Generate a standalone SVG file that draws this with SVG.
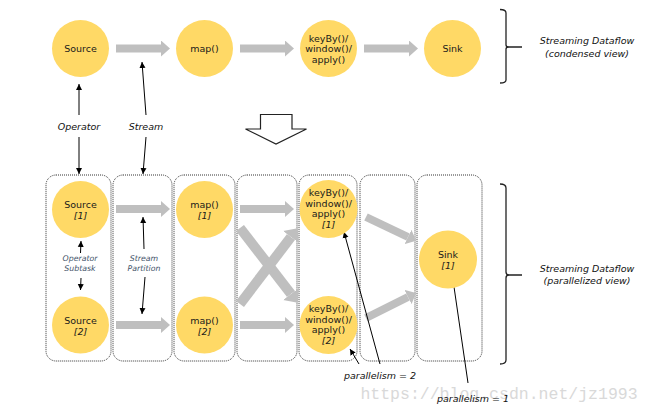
<svg xmlns="http://www.w3.org/2000/svg" width="651" height="414" viewBox="0 0 651 414">
<style>
.n{fill:#FFD966}
.t{font-family:"DejaVu Sans",Verdana,sans-serif;font-size:9.5px;fill:#1a1a1a;text-anchor:middle}
.i{font-style:italic}
.lab{font-family:"DejaVu Sans",Verdana,sans-serif;font-size:9.5px;font-style:italic;fill:#111;text-anchor:middle}
.sub{font-family:"DejaVu Sans",Verdana,sans-serif;font-size:7.8px;font-style:italic;fill:#44546A;text-anchor:middle}
.box{fill:none;stroke:#333;stroke-width:1;stroke-dasharray:1 1}
.g{stroke:#BFBFBF;stroke-width:8;fill:none}
.gx{stroke:#BFBFBF;stroke-width:10;fill:none}
.k{stroke:#000;stroke-width:1;fill:none;marker-end:url(#ah)}
.br{stroke:#222;stroke-width:1.3;fill:none}
</style>
<defs>
<marker id="gh" markerUnits="userSpaceOnUse" markerWidth="10" markerHeight="16" refX="0" refY="8" orient="auto" viewBox="0 0 10 16"><path d="M0,0 L9,8 L0,16 z" fill="#BFBFBF"/></marker>
<marker id="gh2" markerUnits="userSpaceOnUse" markerWidth="12" markerHeight="20" refX="0" refY="10" orient="auto" viewBox="0 0 12 20"><path d="M0,0 L11,10 L0,20 z" fill="#BFBFBF"/></marker>
<marker id="ah" markerUnits="userSpaceOnUse" markerWidth="8" markerHeight="8" refX="6" refY="3" orient="auto" viewBox="0 0 8 6"><path d="M0,0 L6,3 L0,6 z" fill="#000"/></marker>
</defs>
<text x="499" y="399" style="font-family:'Liberation Mono',monospace;font-size:16.5px;fill:#d9d9d9;text-anchor:middle">https://blog.csdn.net/jz1993</text>
<g id="boxes">
<rect class="box" x="46" y="175" width="65" height="186" rx="10"/>
<rect class="box" x="113" y="175" width="59" height="186" rx="10"/>
<rect class="box" x="174" y="175" width="61" height="186" rx="10"/>
<rect class="box" x="237" y="175" width="60" height="186" rx="10"/>
<rect class="box" x="299" y="175" width="58" height="186" rx="10"/>
<rect class="box" x="360" y="175" width="55" height="186" rx="10"/>
<rect class="box" x="417" y="175" width="65" height="186" rx="10"/>
</g>
<g id="connectors">
<line class="g" x1="116" y1="48.5" x2="161" y2="48.5" marker-end="url(#gh)"/>
<line class="g" x1="240" y1="48.5" x2="285" y2="48.5" marker-end="url(#gh)"/>
<line class="g" x1="364" y1="48.5" x2="409" y2="48.5" marker-end="url(#gh)"/>
<line class="g" x1="116" y1="209" x2="161" y2="209" marker-end="url(#gh)"/>
<line class="g" x1="116" y1="325" x2="161" y2="325" marker-end="url(#gh)"/>
<line class="g" x1="240" y1="209" x2="285" y2="209" marker-end="url(#gh)"/>
<line class="g" x1="240" y1="325" x2="285" y2="325" marker-end="url(#gh)"/>
<line class="gx" x1="240" y1="228" x2="291" y2="294" marker-end="url(#gh2)"/>
<line class="gx" x1="240" y1="304" x2="291" y2="237" marker-end="url(#gh2)"/>
<line class="g" x1="366" y1="217" x2="408" y2="237" marker-end="url(#gh)"/>
<line class="g" x1="366" y1="318" x2="408" y2="297" marker-end="url(#gh)"/>
<line class="k" x1="79" y1="115" x2="79" y2="84"/>
<line class="k" x1="79" y1="137" x2="79" y2="174"/>
<line class="k" x1="146" y1="115" x2="142" y2="62"/>
<line class="k" x1="146" y1="137" x2="143" y2="174"/>
<line class="k" x1="80.5" y1="253" x2="81" y2="241"/>
<line class="k" x1="81" y1="278" x2="80.5" y2="290"/>
<line class="k" x1="144" y1="249" x2="143" y2="217"/>
<line class="k" x1="145" y1="277" x2="142" y2="314"/>
<line class="k" x1="380" y1="364" x2="344" y2="232"/>
<line class="k" x1="359" y1="364" x2="350" y2="349"/>
<line class="k" x1="468" y1="383" x2="453" y2="280"/>
</g>
<g id="src"><circle class="n" cx="80.5" cy="48.5" r="28.5"/><text class="t" x="80.5" y="52">Source</text></g>
<g id="map"><circle class="n" cx="204.5" cy="48.5" r="28.5"/><text class="t" x="204.5" y="52">map()</text></g>
<g id="key"><circle class="n" cx="328.5" cy="48.5" r="28.5"/><text class="t" x="328.5" y="41.5">keyBy()/</text><text class="t" x="328.5" y="52">window()/</text><text class="t" x="328.5" y="62.5">apply()</text></g>
<g id="sink"><circle class="n" cx="452.5" cy="48.5" r="28.5"/><text class="t" x="452.5" y="52">Sink</text></g>
<g id="src1"><circle class="n" cx="80.5" cy="209.5" r="28.5"/><text class="t" x="80.5" y="208">Source</text><text class="t i" x="80.5" y="219">[1]</text></g>
<g id="src2"><circle class="n" cx="80.5" cy="325" r="28.5"/><text class="t" x="80.5" y="323.5">Source</text><text class="t i" x="80.5" y="334.5">[2]</text></g>
<g id="map1"><circle class="n" cx="204.5" cy="209.5" r="28.5"/><text class="t" x="204.5" y="208">map()</text><text class="t i" x="204.5" y="219">[1]</text></g>
<g id="map2"><circle class="n" cx="204.5" cy="325" r="28.5"/><text class="t" x="204.5" y="323.5">map()</text><text class="t i" x="204.5" y="334.5">[2]</text></g>
<g id="key1"><circle class="n" cx="328.5" cy="209" r="29"/><text class="t" x="328.5" y="196">keyBy()/</text><text class="t" x="328.5" y="206.5">window()/</text><text class="t" x="328.5" y="217">apply()</text><text class="t i" x="328.5" y="228">[1]</text></g>
<g id="key2"><circle class="n" cx="328.5" cy="325" r="29"/><text class="t" x="328.5" y="312">keyBy()/</text><text class="t" x="328.5" y="322.5">window()/</text><text class="t" x="328.5" y="333">apply()</text><text class="t i" x="328.5" y="344">[2]</text></g>
<g id="sink1"><circle class="n" cx="448" cy="259.5" r="29"/><text class="t" x="448" y="258">Sink</text><text class="t i" x="448" y="269">[1]</text></g>
<g id="labels">
<text class="lab" x="79" y="130">Operator</text>
<text class="lab" x="146" y="130">Stream</text>
<text class="sub" x="80" y="261">Operator</text>
<text class="sub" x="80" y="271">Subtask</text>
<text class="sub" x="144" y="261">Stream</text>
<text class="sub" x="144" y="271">Partition</text>
<text class="lab" x="380" y="379">parallelism = 2</text>
<text class="lab" x="473" y="402">parallelism = 1</text>
<text class="lab" x="587" y="44">Streaming Dataflow</text>
<text class="lab" x="587" y="57">(condensed view)</text>
<text class="lab" x="587" y="272">Streaming Dataflow</text>
<text class="lab" x="587" y="284">(parallelized view)</text>
</g>
<g id="brackets">
<path class="br" d="M500,9.5 Q506,9.5 506,13 V45 Q506,47 509,47 H522 M509,47 Q506,47 506,49 V80 Q506,83 500,83"/>
<path class="br" d="M500,184 Q506,184 506,188 V272 Q506,275 509,275 H522 M509,275 Q506,275 506,278 V360 Q506,364 500,364"/>
</g>
<g id="bigarrow">
<path d="M260.5,114.5 H292 V129 H306.5 L276,144 L245.5,129 H260.5 Z" fill="#fff" stroke="#222" stroke-width="1.2"/>
</g>
</svg>
